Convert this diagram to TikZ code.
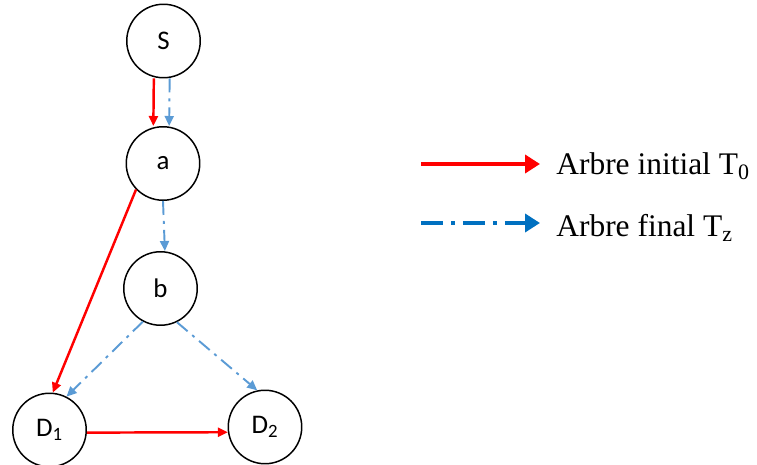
\documentclass[tikz,border=0pt]{standalone}
\usepackage{fontspec}
\setmainfont{Liberation Serif}
\newfontfamily\nodefont{Carlito}
\usepackage{xcolor}
\definecolor{treeRed}{HTML}{FF0000}
\definecolor{treeBlue}{HTML}{5B9BD5}
\definecolor{legendBlue}{HTML}{0070C0}
\usetikzlibrary{arrows.meta,positioning,calc}
\tikzset{
    vertex/.style={
        draw=black,
        fill=white,
        circle,
        line width=0.85pt,
        minimum size=1.47cm,
        inner sep=0pt,
        font=\nodefont\fontsize{15.3}{18}\selectfont
    },
    treeinit/.style={
        -{Triangle[length=0.2cm,width=0.18cm]},
        line width=1.4pt,
        color=treeRed
    },
    treefinal/.style={
        -{Triangle[length=0.2cm,width=0.18cm]},
        line width=1.1pt,
        color=treeBlue,
        dash pattern=on 0.28cm off 0.12cm on 0.06cm off 0.12cm
    },
    legendinit/.style={
        -{Triangle[length=0.3cm,width=0.36cm]},
        line width=2.3pt,
        color=treeRed
    },
    legendfinal/.style={
        -{Triangle[length=0.3cm,width=0.36cm]},
        line width=2.3pt,
        color=legendBlue,
        dash pattern=on 0.44cm off 0.16cm on 0.08cm off 0.16cm
    },
    legendtext/.style={
        anchor=base west,
        inner sep=0pt,
        font=\fontsize{17.9}{21}\selectfont
    }
}

\begin{document}
\begin{tikzpicture}[x=0.02cm,y=0.02cm]
    \useasboundingbox (0,0) rectangle (757,-465);
    % Nodes
    \node[vertex] (S) at (163.5,-41) {S};
    \node[vertex] (a) at (163,-163.5) {a};
    \node[vertex] (b) at (160.5,-288.5) {b};
    \node[vertex] (D1) at (49.5,-430) {D\textsubscript{1}};
    \node[vertex] (D2) at (265,-427) {D\textsubscript{2}};

    % Connections
    \draw[treeinit] ([xshift=-5.5]S.south) -- ([xshift=-5.5]a.north);
    \draw[treefinal] ([xshift=3.5]S.south) -- ([xshift=3.5]a.north);
    \draw[treefinal] (a.south) -- ([xshift=2.5]b.north);
    \draw[treeinit] (a.224) -- (D1.85);
    \draw[treefinal] (b.242) -- (D1.63);
    \draw[treefinal] (b.296) -- (D2.102);
    \draw[treeinit] (D1.-4) -- (D2.188);

    % Legend
    \coordinate (initA) at (421,-164);
    \coordinate (initB) at (540,-164);
    \coordinate (finalA) at (421,-223);
    \coordinate (finalB) at (540,-223);
    \draw[legendinit] (initA) -- (initB);
    \draw[legendfinal] (finalA) -- (finalB);
    \node[legendtext] (initlbl) at (556,-175) {Arbre initial T\textsubscript{0}};
    \node[legendtext] (finallbl) at (556,-237) {Arbre final T\textsubscript{z}};
\end{tikzpicture}
\end{document}
